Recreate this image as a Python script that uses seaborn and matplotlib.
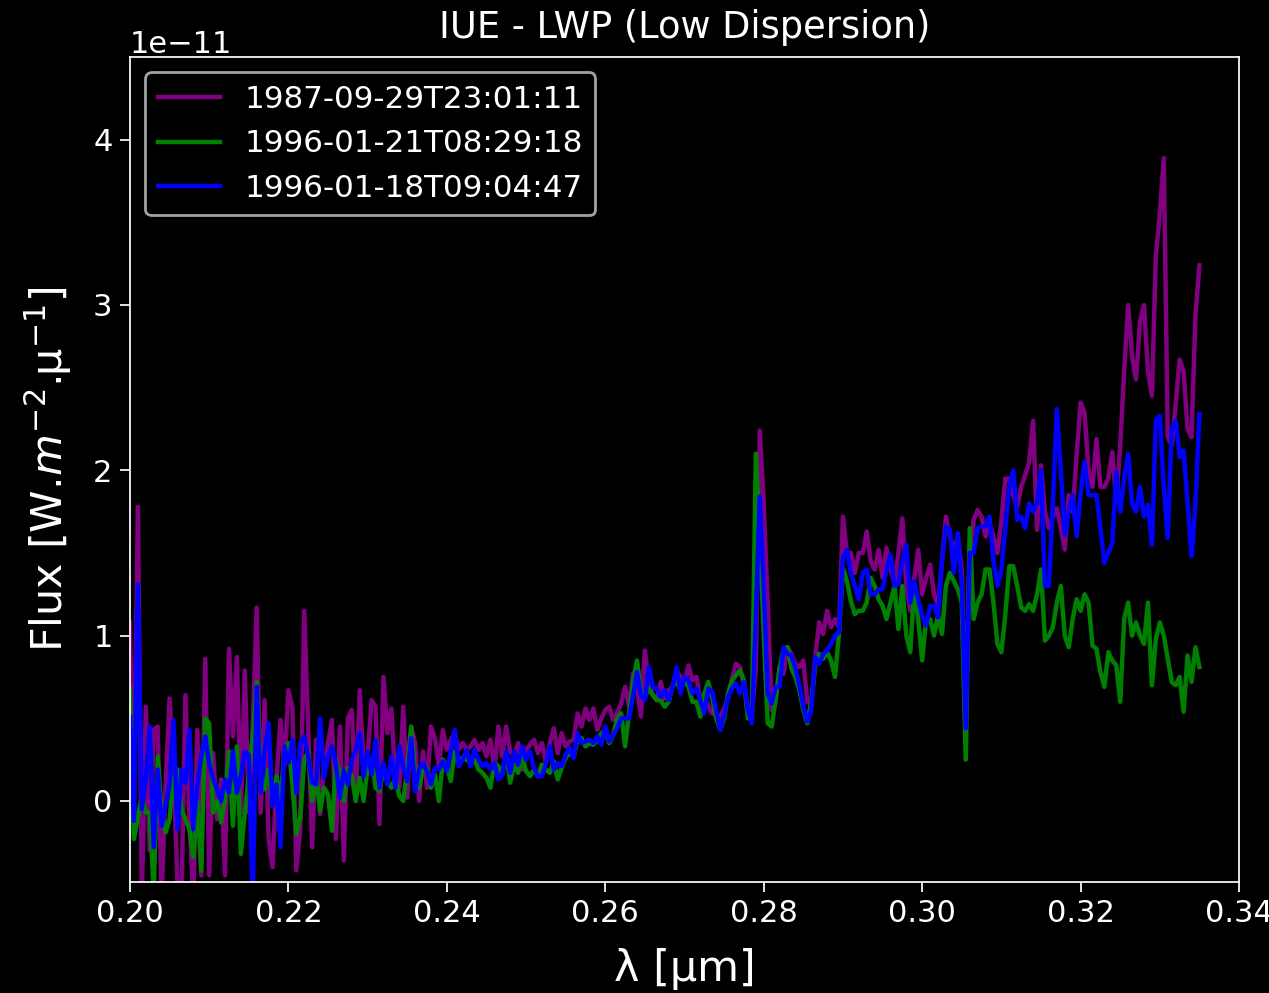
import numpy as np
import pandas as pd
import matplotlib
matplotlib.use("Agg")
import matplotlib.pyplot as plt
import seaborn as sns

# Wavelength sampling grid (micron)
wavelength = np.round(np.linspace(0.200, 0.335, 271), 4)

# Flux values in units of 1e-11 W m^-2 micron^-1
flux_1987 = [
    1.08, -0.1, 1.78, -0.6, 0.57, -0.3, 0.43, 0.45, -0.6, 0.1,
    0.62, 0.2, -0.5, -0.6, 0.64, -0.1, -0.6, 0.43, -0.45, 0.86,
    -0.45, 0.29, -0.11, 0.13, -0.45, 0.92, 0.39, 0.87, -0.07, 0.79,
    -0.07, 0.45, 1.17, -0.07, 0.61, -0.23, -0.4, 0.13, 0.49, 0.21,
    0.67, 0.57, -0.42, -0.17, 1.15, 0.45, -0.28, 0.37, -0.08, 0.21,
    0.35, 0.49, -0.23, 0.45, -0.36, 0.50, 0.55, 0.00, 0.67, 0.21,
    0.27, 0.61, 0.57, -0.14, 0.75, 0.41, 0.56, 0.12, 0.08, 0.57,
    0.02, 0.45, 0.35, 0.00, 0.3, 0.08, 0.45, 0.38, 0.21, 0.43,
    0.31, 0.37, 0.41, 0.31, 0.35, 0.31, 0.33, 0.37, 0.31, 0.35,
    0.27, 0.37, 0.19, 0.45, 0.27, 0.45, 0.30, 0.27, 0.35, 0.19,
    0.31, 0.34, 0.37, 0.29, 0.35, 0.23, 0.35, 0.44, 0.29, 0.41,
    0.33, 0.36, 0.37, 0.53, 0.45, 0.56, 0.49, 0.56, 0.43, 0.50,
    0.55, 0.57, 0.49, 0.53, 0.59, 0.69, 0.57, 0.77, 0.70, 0.51,
    0.91, 0.72, 0.64, 0.61, 0.72, 0.62, 0.67, 0.69, 0.79, 0.75,
    0.71, 0.82, 0.73, 0.75, 0.61, 0.63, 0.58, 0.53, 0.52, 0.51,
    0.56, 0.62, 0.74, 0.83, 0.81, 0.69, 0.58, 0.52, 0.8, 2.24,
    1.8, 1.2, 0.55, 0.61, 0.81, 0.77, 0.93, 0.89, 0.83, 0.81,
    0.85, 0.6, 0.58, 0.87, 1.08, 1.01, 1.15, 1.05, 1.1, 1.05,
    1.72, 1.50, 1.50, 1.38, 1.5, 1.5, 1.63, 1.45, 1.4, 1.52,
    1.35, 1.53, 1.4, 1.32, 1.5, 1.71, 1.3, 1.15, 1.35, 1.52,
    1.25, 1.35, 1.43, 1.25, 1.18, 1.45, 1.72, 1.6, 1.52, 1.6,
    1.4, 0.5, 1.5, 1.70, 1.76, 1.72, 1.6, 1.68, 1.6, 1.50,
    1.7, 1.95, 1.95, 1.85, 1.78, 1.9, 1.97, 2.05, 2.30, 1.64,
    2.03, 1.75, 1.65, 1.72, 1.77, 1.65, 1.52, 1.85, 1.75, 2.1,
    2.41, 2.35, 2.0, 1.9, 2.19, 1.90, 1.90, 1.95, 2.11, 1.81,
    2.15, 2.6, 3.00, 2.69, 2.55, 2.9, 3.0, 2.6, 2.45, 3.3,
    3.55, 3.89, 2.2, 2.15, 2.4, 2.67, 2.6, 2.25, 2.2, 2.94,
    3.24,
]

flux_1996_21 = [
    0.68, -0.23, -0.1, 0.03, -0.07, -0.07, -0.55, 0.27, -0.07, -0.19,
    -0.11, 0.13, 0.19, -0.05, -0.11, -0.17, -0.34, -0.01, -0.42, 0.5,
    0.47, -0.07, 0.0, -0.13, 0.01, 0.3, -0.15, 0.33, -0.32, -0.07,
    0.15, 0.4, 0.72, 0.19, 0.07, 0.19, -0.03, 0.15, 0.0, 0.3,
    0.35, 0.1, -0.2, -0.1, 0.25, 0.3, 0.0, 0.15, -0.06, 0.08,
    0.04, -0.18, 0.25, 0.16, 0.0, 0.2, 0.15, 0.0, 0.14, 0.0,
    0.2, 0.25, 0.08, 0.06, 0.2, 0.12, 0.08, 0.14, 0.03, 0.0,
    0.2, 0.45, 0.16, 0.08, 0.2, 0.2, 0.08, 0.16, 0.0, 0.25,
    0.21, 0.12, 0.3, 0.25, 0.26, 0.25, 0.23, 0.25, 0.19, 0.17,
    0.14, 0.08, 0.23, 0.21, 0.16, 0.3, 0.11, 0.22, 0.17, 0.27,
    0.18, 0.15, 0.19, 0.15, 0.22, 0.19, 0.17, 0.24, 0.13, 0.2,
    0.26, 0.29, 0.27, 0.37, 0.38, 0.33, 0.35, 0.34, 0.37, 0.41,
    0.43, 0.35, 0.4, 0.5, 0.53, 0.33, 0.53, 0.72, 0.85, 0.66,
    0.63, 0.68, 0.64, 0.61, 0.61, 0.57, 0.6, 0.7, 0.72, 0.67,
    0.73, 0.69, 0.6, 0.6, 0.51, 0.65, 0.72, 0.62, 0.5, 0.43,
    0.5, 0.65, 0.73, 0.76, 0.79, 0.73, 0.5, 0.5, 2.10, 1.62,
    1.01, 0.47, 0.45, 0.61, 0.8, 0.92, 0.93, 0.8, 0.75, 0.67,
    0.55, 0.47, 0.6, 0.82, 0.89, 0.86, 0.9, 0.85, 0.75, 1.01,
    1.41, 1.33, 1.21, 1.13, 1.15, 1.15, 1.2, 1.35, 1.3, 1.22,
    1.18, 1.1, 1.2, 1.3, 1.04, 1.3, 1.0, 0.9, 1.3, 1.1,
    0.85, 1.1, 1.1, 1.0, 1.12, 1.01, 1.3, 1.38, 1.33, 1.28,
    1.2, 0.25, 1.65, 1.1, 1.2, 1.25, 1.4, 1.4, 1.2, 0.95,
    0.9, 1.13, 1.42, 1.42, 1.3, 1.17, 1.15, 1.19, 1.15, 1.25,
    1.4, 0.97, 1.0, 1.05, 1.2, 1.3, 1.0, 0.93, 1.1, 1.22,
    1.15, 1.25, 1.2, 0.94, 0.92, 0.78, 0.69, 0.9, 0.85, 0.82,
    0.6, 1.1, 1.2, 1.0, 1.08, 1.0, 0.95, 1.2, 0.7, 0.98,
    1.08, 1.0, 0.86, 0.72, 0.7, 0.75, 0.54, 0.88, 0.72, 0.93,
    0.81,
]

flux_1996_18 = [
    0.51, -0.12, 1.31, -0.05, 0.13, 0.45, -0.28, 0.19, -0.15, -0.03,
    0.1, 0.49, -0.17, 0.19, 0.11, 0.43, -0.17, 0.1, 0.27, 0.39,
    0.23, 0.13, 0.07, 0.0, 0.13, 0.05, 0.3, 0.05, 0.15, 0.3,
    0.28, -0.6, 0.69, 0.05, 0.3, 0.47, -0.03, 0.1, -0.28, 0.33,
    0.23, 0.37, 0.05, 0.35, 0.39, 0.27, 0.11, 0.1, 0.5, 0.14,
    0.27, 0.33, 0.22, 0.02, 0.18, 0.1, 0.25, 0.3, 0.41, 0.15,
    0.3, 0.16, 0.37, 0.08, 0.23, 0.10, 0.27, 0.08, 0.33, 0.2,
    0.12, 0.38, 0.06, 0.19, 0.23, 0.18, 0.1, 0.2, 0.19, 0.24,
    0.18, 0.3, 0.43, 0.21, 0.25, 0.31, 0.21, 0.31, 0.25, 0.21,
    0.23, 0.19, 0.23, 0.13, 0.16, 0.3, 0.17, 0.3, 0.22, 0.33,
    0.25, 0.3, 0.2, 0.15, 0.15, 0.22, 0.33, 0.19, 0.23, 0.21,
    0.28, 0.32, 0.26, 0.41, 0.35, 0.36, 0.37, 0.35, 0.39, 0.34,
    0.45, 0.36, 0.4, 0.44, 0.5, 0.5, 0.5, 0.63, 0.78, 0.64,
    0.61, 0.81, 0.69, 0.68, 0.63, 0.67, 0.61, 0.69, 0.81, 0.65,
    0.75, 0.73, 0.65, 0.68, 0.61, 0.53, 0.68, 0.66, 0.55, 0.43,
    0.52, 0.63, 0.68, 0.71, 0.65, 0.72, 0.55, 0.47, 1.1, 1.84,
    1.3, 0.65, 0.59, 0.69, 0.69, 0.93, 0.89, 0.88, 0.8, 0.7,
    0.57, 0.48, 0.55, 0.87, 0.83, 0.89, 0.91, 0.95, 1.0, 1.02,
    1.47, 1.52, 1.38, 1.3, 1.22, 1.38, 1.40, 1.25, 1.25, 1.28,
    1.28, 1.4, 1.49, 1.3, 1.31, 1.45, 1.55, 1.2, 1.33, 1.22,
    1.12, 1.06, 1.18, 1.18, 1.11, 1.45, 1.66, 1.64, 1.38, 1.62,
    1.31, 0.44, 1.5, 1.5, 1.65, 1.66, 1.66, 1.72, 1.45, 1.3,
    1.4, 1.65, 1.9, 2.0, 1.7, 1.72, 1.65, 1.8, 1.75, 1.8,
    2.0, 1.3, 1.3, 1.8, 2.37, 2.0, 1.61, 1.75, 1.85, 1.6,
    1.86, 2.05, 1.85, 1.85, 1.85, 1.65, 1.44, 1.5, 1.56, 1.99,
    1.75, 1.95, 2.1, 1.8, 1.75, 1.9, 1.72, 1.79, 1.55, 2.3,
    2.33, 1.9, 1.59, 2.25, 2.3, 2.08, 2.12, 1.8, 1.48, 1.8,
    2.34,
]

series_labels = ["1987-09-29T23:01:11", "1996-01-21T08:29:18", "1996-01-18T09:04:47"]
series_colors = ["purple", "green", "blue"]
series_values = [flux_1987, flux_1996_21, flux_1996_18]

plt.style.use("dark_background")
plt.rcParams["font.family"] = ["DejaVu Sans"]

fig = plt.figure(figsize=(12.69, 9.93), dpi=100)
ax = fig.add_axes([0.1024, 0.1118, 0.8740, 0.8308])

unit = 1e-11
for vals, lab, col in zip(series_values, series_labels, series_colors):
    df = pd.DataFrame({"wavelength": wavelength, "flux": np.asarray(vals) * unit})
    sns.lineplot(data=df, x="wavelength", y="flux", color=col, label=lab,
                 linewidth=3.2, ax=ax, sort=False)

ax.set_xlim(0.20, 0.34)
ax.set_ylim(-0.49e-11, 4.5e-11)
ax.set_xticks(np.arange(0.20, 0.341, 0.02))
ax.set_xlabel("λ [µm]", fontsize=31, labelpad=14)
ax.set_ylabel("Flux [W.$m^{-2}$.µ$^{-1}$]", fontsize=31, labelpad=14)
ax.set_title("IUE - LWP (Low Dispersion)", fontsize=26.5, pad=14)
ax.tick_params(labelsize=22, length=7.5, width=1.25, pad=5)
ax.yaxis.get_offset_text().set_fontsize(22)
for sp in ax.spines.values():
    sp.set_linewidth(1.25)

leg = ax.legend(loc="upper left", fontsize=22.3)
leg.get_frame().set_linewidth(2.0)

fig.savefig("out.png", dpi=100)
